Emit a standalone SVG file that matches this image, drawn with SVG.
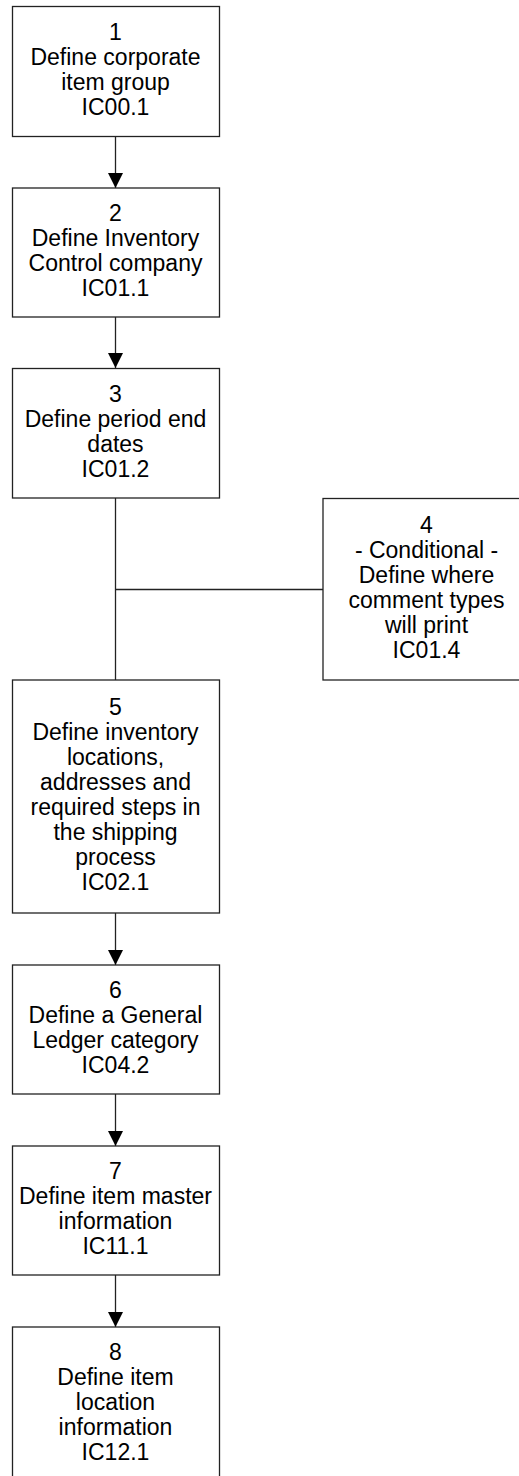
<svg xmlns="http://www.w3.org/2000/svg" width="519" height="1476" viewBox="0 0 519 1476">
  <style>
    .box { fill: #ffffff; stroke: #222222; stroke-width: 1.3; }
    .lbl { font-family: "Liberation Sans", Arial, sans-serif; font-size: 23px; fill: #000000; text-anchor: middle; }
    .wire { fill: none; stroke: #222222; stroke-width: 1.3; }
    .arrow { marker-end: url(#head); }
  </style>
  <defs>
    <marker id="head" markerUnits="userSpaceOnUse" markerWidth="16" markerHeight="16" viewBox="0 0 16 16" refX="15" refY="8" orient="auto">
      <path d="M0,0.5 L15,8 L0,15.5 Z" fill="#000000"/>
    </marker>
  </defs>
  <rect width="519" height="1476" fill="#ffffff"/>

  <g id="connectors">
    <line class="wire arrow" x1="115.5" y1="136" x2="115.5" y2="188"/>
    <line class="wire arrow" x1="115.5" y1="317" x2="115.5" y2="368"/>
    <line class="wire" x1="115.5" y1="498" x2="115.5" y2="680"/>
    <line class="wire" x1="115.5" y1="589.5" x2="323" y2="589.5"/>
    <line class="wire arrow" x1="115.5" y1="913" x2="115.5" y2="965"/>
    <line class="wire arrow" x1="115.5" y1="1094" x2="115.5" y2="1146"/>
    <line class="wire arrow" x1="115.5" y1="1275" x2="115.5" y2="1327"/>
  </g>

  <g id="node1">
    <rect class="box" x="12.5" y="6.5" width="207" height="130"/>
    <text class="lbl" x="115.5" y="39.5"><tspan x="115.5">1</tspan><tspan x="115.5" dy="25">Define corporate</tspan><tspan x="115.5" dy="25">item group</tspan><tspan x="115.5" dy="25">IC00.1</tspan></text>
  </g>

  <g id="node2">
    <rect class="box" x="12.5" y="188" width="207" height="129"/>
    <text class="lbl" x="115.5" y="221"><tspan x="115.5">2</tspan><tspan x="115.5" dy="25">Define Inventory</tspan><tspan x="115.5" dy="25">Control company</tspan><tspan x="115.5" dy="25">IC01.1</tspan></text>
  </g>

  <g id="node3">
    <rect class="box" x="12.5" y="368.5" width="207" height="129.5"/>
    <text class="lbl" x="115.5" y="401.5"><tspan x="115.5">3</tspan><tspan x="115.5" dy="25">Define period end</tspan><tspan x="115.5" dy="25">dates</tspan><tspan x="115.5" dy="25">IC01.2</tspan></text>
  </g>

  <g id="node4">
    <rect class="box" x="323" y="498.5" width="207" height="181.5"/>
    <text class="lbl" x="426.5" y="532.5"><tspan x="426.5">4</tspan><tspan x="426.5" dy="25">- Conditional -</tspan><tspan x="426.5" dy="25">Define where</tspan><tspan x="426.5" dy="25">comment types</tspan><tspan x="426.5" dy="25">will print</tspan><tspan x="426.5" dy="25">IC01.4</tspan></text>
  </g>

  <g id="node5">
    <rect class="box" x="12.5" y="680" width="207" height="233"/>
    <text class="lbl" x="115.5" y="714.5"><tspan x="115.5">5</tspan><tspan x="115.5" dy="25">Define inventory</tspan><tspan x="115.5" dy="25">locations,</tspan><tspan x="115.5" dy="25">addresses and</tspan><tspan x="115.5" dy="25">required steps in</tspan><tspan x="115.5" dy="25">the shipping</tspan><tspan x="115.5" dy="25">process</tspan><tspan x="115.5" dy="25">IC02.1</tspan></text>
  </g>

  <g id="node6">
    <rect class="box" x="12.5" y="965" width="207" height="129"/>
    <text class="lbl" x="115.5" y="998"><tspan x="115.5">6</tspan><tspan x="115.5" dy="25">Define a General</tspan><tspan x="115.5" dy="25">Ledger category</tspan><tspan x="115.5" dy="25">IC04.2</tspan></text>
  </g>

  <g id="node7">
    <rect class="box" x="12.5" y="1146" width="207" height="129"/>
    <text class="lbl" x="115.5" y="1179"><tspan x="115.5">7</tspan><tspan x="115.5" dy="25">Define item master</tspan><tspan x="115.5" dy="25">information</tspan><tspan x="115.5" dy="25">IC11.1</tspan></text>
  </g>

  <g id="node8">
    <rect class="box" x="12.5" y="1327" width="207" height="155"/>
    <text class="lbl" x="115.5" y="1360"><tspan x="115.5">8</tspan><tspan x="115.5" dy="25">Define item</tspan><tspan x="115.5" dy="25">location</tspan><tspan x="115.5" dy="25">information</tspan><tspan x="115.5" dy="25">IC12.1</tspan></text>
  </g>
</svg>
